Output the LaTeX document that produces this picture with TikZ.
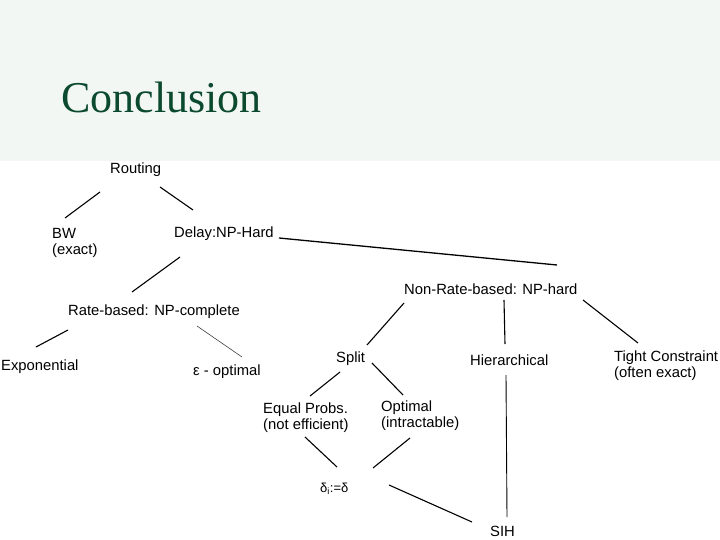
\documentclass[tikz,border=0pt]{standalone}
\usepackage{fontspec}
\setmainfont{Liberation Sans}
\newfontfamily\titlefont{Liberation Serif}
\definecolor{bandbg}{HTML}{F3F7F4}
\definecolor{titlegreen}{HTML}{0B4A2E}
\begin{document}
\begin{tikzpicture}[x=1pt,y=-1pt,
  lbl/.style={anchor=west,inner sep=0pt,font=\fontsize{14.8}{16}\selectfont,align=left},
  conn/.style={line width=1.1pt,black},
  faint/.style={line width=0.6pt,black!75}]
\useasboundingbox (0,0) rectangle (720,540);
\fill[bandbg] (0,0) rectangle (720,161);
\node[anchor=base west,inner sep=0pt,text=titlegreen,font=\titlefont\fontsize{44}{48}\selectfont] (title) at (61,113) {Conclusion};

\node[lbl] (routing) at (110,170) {Routing};
\node[lbl] (bw) at (52,243) {BW\\(exact)};
\node[lbl] (delay) at (174,234) {Delay:NP-Hard};
\node[lbl] (rate) at (68,312) {Rate-based: NP-complete};
\node[lbl] (expo) at (1,367) {Exponential};
\node[lbl] (eps) at (193,372) {ε - optimal};
\node[lbl] (nonrate) at (404,289) {Non-Rate-based: NP-hard};
\node[lbl] (split) at (336,359) {Split};
\node[lbl] (hier) at (470,360) {Hierarchical};
\node[lbl] (tight) at (614,366) {Tight Constraint\\(often exact)};
\node[lbl] (equal) at (263,418) {Equal Probs.\\(not efficient)};
\node[lbl] (optimal) at (381,416) {Optimal\\(intractable)};
\node[lbl,font=\fontsize{13}{14}\selectfont] (delta) at (320,489) {δ\textsubscript{i}:=δ};
\node[lbl] (sih) at (490,531) {SIH};

% connectors (free-floating line segments between labels)
\coordinate (r1a) at (100,192); \coordinate (r1b) at (65,218);
\coordinate (r2a) at (160,187); \coordinate (r2b) at (193,210);
\coordinate (d1a) at (279,238); \coordinate (d1b) at (557,265);
\coordinate (d2a) at (180,257); \coordinate (d2b) at (132,292);
\coordinate (ra1) at (68,330);  \coordinate (rb1) at (36,347);
\coordinate (ra2) at (197,326); \coordinate (rb2) at (242,357);
\coordinate (n1a) at (404,303); \coordinate (n1b) at (367,345);
\coordinate (n2a) at (504,300); \coordinate (n2b) at (505,344);
\coordinate (n3a) at (583,300); \coordinate (n3b) at (638,343);
\coordinate (s1a) at (340,372); \coordinate (s1b) at (310,396);
\coordinate (s2a) at (372,363); \coordinate (s2b) at (403,395);
\coordinate (e1a) at (305,437); \coordinate (e1b) at (337,467);
\coordinate (o1a) at (410,438); \coordinate (o1b) at (373,468);
\coordinate (dl1a) at (389,485); \coordinate (dl1b) at (472,522);
\coordinate (h1a) at (506,375); \coordinate (h1b) at (507,517);

\draw[conn] (r1a) -- (r1b);
\draw[conn] (r2a) -- (r2b);
\draw[conn,line width=1.3pt] (d1a) -- (d1b);
\draw[conn] (d2a) -- (d2b);
\draw[conn] (ra1) -- (rb1);
\draw[faint] (ra2) -- (rb2);
\draw[conn] (n1a) -- (n1b);
\draw[conn] (n2a) -- (n2b);
\draw[conn] (n3a) -- (n3b);
\draw[conn] (s1a) -- (s1b);
\draw[conn] (s2a) -- (s2b);
\draw[conn] (e1a) -- (e1b);
\draw[conn] (o1a) -- (o1b);
\draw[conn] (dl1a) -- (dl1b);
\draw[conn,line width=0.9pt] (h1a) -- (h1b);
\end{tikzpicture}
\end{document}
